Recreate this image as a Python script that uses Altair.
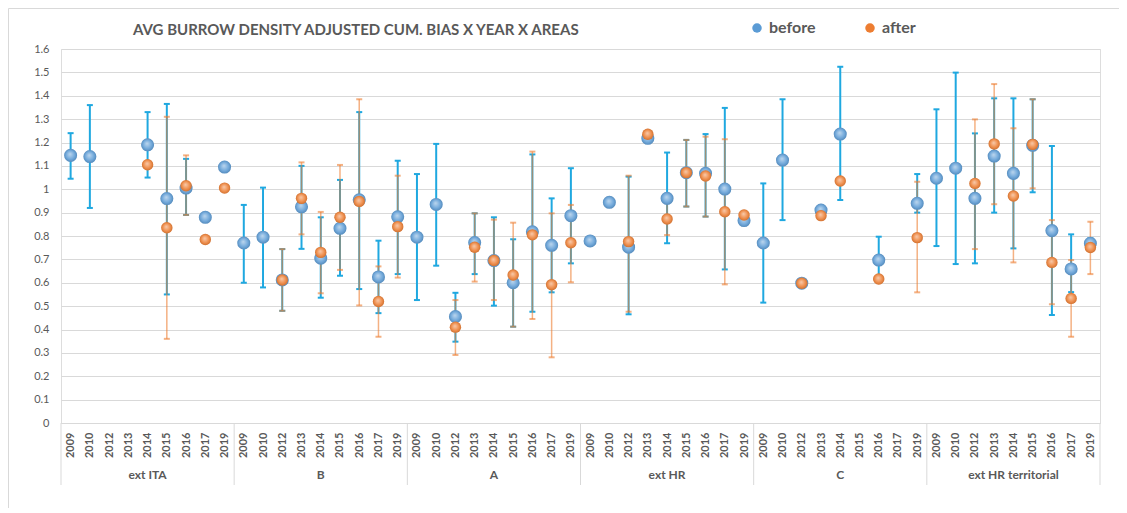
import altair as alt
import pandas as pd

groups = ["ext ITA", "B", "A", "ext HR", "C", "ext HR territorial"]
years = ["2009", "2010", "2012", "2013", "2014", "2015", "2016", "2017", "2019"]
title_text = "AVG BURROW DENSITY ADJUSTED CUM. BIAS X YEAR X AREAS"
N = None

before = [1.145, 1.14, N, N, 1.19, 0.96, 1.005, 0.88, 1.095,
          0.77, 0.795, 0.612, 0.925, 0.705, 0.833, 0.955, 0.625, 0.882,
          0.795, 0.935, 0.455, 0.772, 0.695, 0.60, 0.818, 0.76, 0.887,
          0.779, 0.944, 0.752, 1.218, 0.961, 1.071, 1.068, 1.001, 0.866,
          0.77, 1.125, 0.598, 0.911, 1.236, N, 0.697, N, 0.94,
          1.047, 1.09, 0.961, 1.142, 1.068, 1.188, 0.823, 0.659, 0.769]
before_lo = [1.045, 0.92, N, N, 1.05, 0.55, 0.89, N, N,
             0.60, 0.58, 0.48, 0.745, 0.536, 0.63, 0.573, 0.47, 0.637,
             0.526, 0.673, 0.348, 0.637, 0.502, 0.412, 0.476, 0.559, 0.683,
             N, N, 0.465, N, 0.769, 0.926, 0.883, 0.657, N,
             0.515, 0.868, N, N, 0.954, N, 0.62, N, 0.90,
             0.757, 0.68, 0.683, 0.90, 0.747, 0.987, 0.462, 0.56, 0.75]
before_hi = [1.24, 1.36, N, N, 1.33, 1.365, 1.13, N, N,
             0.933, 1.007, 0.744, 1.10, 0.88, 1.04, 1.33, 0.78, 1.122,
             1.065, 1.194, 0.557, 0.897, 0.88, 0.786, 1.149, 0.961, 1.09,
             N, N, 1.054, N, 1.157, 1.211, 1.236, 1.348, N,
             1.025, 1.385, N, N, 1.524, N, 0.797, N, 1.065,
             1.342, 1.499, 1.239, 1.389, 1.389, 1.385, 1.185, 0.807, 0.79]
after = [N, N, N, N, 1.105, 0.835, 1.015, 0.785, 1.005,
         N, N, 0.612, 0.961, 0.730, 0.88, 0.948, 0.52, 0.84,
         N, N, 0.41, 0.752, 0.695, 0.633, 0.805, 0.592, 0.771,
         N, N, 0.776, 1.235, 0.873, 1.071, 1.057, 0.904, 0.89,
         N, N, 0.598, 0.887, 1.035, N, 0.616, N, 0.793,
         N, N, 1.025, 1.194, 0.971, 1.192, 0.687, 0.533, 0.751]
after_lo = [N, N, N, N, N, 0.36, 0.89, N, N,
            N, N, 0.48, 0.807, 0.555, 0.655, 0.503, 0.369, 0.622,
            N, N, 0.291, 0.605, 0.526, 0.412, 0.445, 0.281, 0.602,
            N, N, 0.476, N, 0.804, 0.926, 0.883, 0.593, N,
            N, N, N, N, N, N, N, N, 0.559,
            N, N, 0.744, 0.936, 0.687, 1.004, 0.508, 0.369, 0.637]
after_hi = [N, N, N, N, N, 1.31, 1.145, N, N,
            N, N, 0.744, 1.115, 0.903, 1.104, 1.385, 0.67, 1.058,
            N, N, 0.526, 0.897, 0.87, 0.857, 1.161, 0.897, 0.933,
            N, N, 1.058, N, 0.95, 1.211, 1.225, 1.214, N,
            N, N, N, N, N, N, N, N, 1.032,
            N, N, 1.299, 1.45, 1.261, 1.385, 0.868, 0.697, 0.861]

W, H = 1039, 374
BLUE, ORANGE = "#5B9BD5", "#ED7D31"
BAR_BLUE, BAR_ORANGE = "#1FA8E0", "#ED7D31"
FONT = "Lato"
GRAY = "#595959"
NCAT = len(groups) * len(years)

pts, errs = [], []
for i in range(NCAT):
    for s, v, lo, hi in (("before", before[i], before_lo[i], before_hi[i]),
                         ("after", after[i], after_lo[i], after_hi[i])):
        if v is not None:
            pts.append({"idx": i, "series": s, "value": v})
        if lo is not None and hi is not None:
            errs.append({"idx": i, "series": s, "lo": lo, "hi": hi})
pts = pd.DataFrame(pts)
errs = pd.DataFrame(errs)
caps = pd.concat([errs.assign(value=errs["lo"]), errs.assign(value=errs["hi"])])

bounds = pd.DataFrame({"idx": [g * len(years) - 0.5 for g in range(len(groups) + 1)]})
glabels = pd.DataFrame({"idx": [g * len(years) + 4 for g in range(len(groups))], "name": groups})

xscale = alt.Scale(domain=[-0.5, NCAT - 0.5], nice=False, zero=False)
yscale = alt.Scale(domain=[0, 1.6], nice=False)
year_arr = "[" + ",".join("'%s'" % y for y in years) + "]"

x_axis = alt.Axis(values=list(range(NCAT)),
                  labelExpr=year_arr + "[datum.value % 9]",
                  labelAngle=270, ticks=False, grid=False, domainColor="#D9D9D9",
                  labelPadding=9, labelFontSize=11, labelColor=GRAY, labelFont=FONT,
                  labelFontWeight="bold", labelOverlap=False, labelFlush=False, title=None)
y_axis = alt.Axis(values=[round(i * 0.1, 1) for i in range(17)], format="~g", grid=True,
                  gridColor="#D9D9D9", domain=False, ticks=False, labelPadding=12,
                  labelFontSize=11, labelColor=GRAY, labelFont=FONT, title=None)

X = alt.X("idx:Q", scale=xscale, axis=x_axis)

def Y(field):
    return alt.Y(field, type="quantitative", scale=yscale, axis=y_axis)

one = pd.DataFrame({"t": [title_text]})
frame_top = alt.Chart(one).mark_rule(color="#D9D9D9", strokeWidth=1).encode(
    x=alt.value(-52.5), x2=alt.value(1300), y=alt.value(-40.5))
frame_left = alt.Chart(one).mark_rule(color="#D9D9D9", strokeWidth=1).encode(
    x=alt.value(-52.5), y=alt.value(-40.5), y2=alt.value(700))
title = alt.Chart(one).mark_text(fontSize=15, fontWeight="bold", color=GRAY, font=FONT,
                                 align="left", baseline="middle").encode(
    x=alt.value(72), y=alt.value(-19), text="t:N")

def err_layer(series, color, opacity, width):
    d = errs[errs["series"] == series]
    c = caps[caps["series"] == series]
    rule = alt.Chart(d).mark_rule(color=color, strokeWidth=width, opacity=opacity).encode(
        x=X, y=Y("lo"), y2="hi:Q",
    )
    cap = alt.Chart(c).mark_tick(color=color, orient="horizontal", size=6, thickness=2,
                                 opacity=opacity).encode(x=X, y=Y("value"))
    return rule + cap

color_enc = alt.Color("series:N",
                      scale=alt.Scale(domain=["before", "after"], range=[BLUE, ORANGE]),
                      legend=alt.Legend(orient="none", legendX=688, legendY=-29,
                                        direction="horizontal", title=None,
                                        symbolType="circle", symbolSize=90,
                                        labelFontSize=16, labelFontWeight="bold",
                                        labelColor=GRAY, labelFont=FONT,
                                        columnPadding=46, labelOffset=4))

shine = alt.RadialGradient(
    gradient="radial",
    stops=[alt.GradientStop(color="rgba(255,255,255,0.6)", offset=0),
           alt.GradientStop(color="rgba(255,255,255,0.15)", offset=0.6),
           alt.GradientStop(color="rgba(0,0,0,0.15)", offset=1)],
    x1=0.45, y1=0.4, r1=0, x2=0.5, y2=0.5, r2=0.55,
)

def point_layer(series, size):
    d = alt.Chart(pts[pts["series"] == series]).encode(x=X, y=Y("value"))
    solid = d.mark_circle(size=size, opacity=1).encode(color=color_enc)
    gloss = d.mark_circle(size=size, fill=shine, opacity=1)
    return solid + gloss

seps = alt.Chart(bounds).mark_rule(color="#D9D9D9", strokeWidth=1).encode(
    x=X, y=alt.value(H), y2=alt.value(H + 62),
)
gtext = alt.Chart(glabels).mark_text(fontSize=12, fontWeight="bold", color=GRAY, font=FONT,
                                     baseline="middle").encode(
    x=X, y=alt.value(H + 52), text="name:N",
)

chart = alt.layer(
    frame_top, frame_left, title, seps, gtext,
    err_layer("before", BAR_BLUE, 1, 2),
    err_layer("after", BAR_ORANGE, 0.6, 1.5),
    point_layer("before", 170),
    point_layer("after", 130),
).properties(
    width=W, height=H,
    autosize=alt.AutoSizeParams(type="none"),
    padding={"left": 53, "top": 41, "right": 19, "bottom": 85},
).configure_view(stroke="transparent").configure(background="white")

chart.save("out.html", embed_options={"renderer": "svg", "actions": False})
